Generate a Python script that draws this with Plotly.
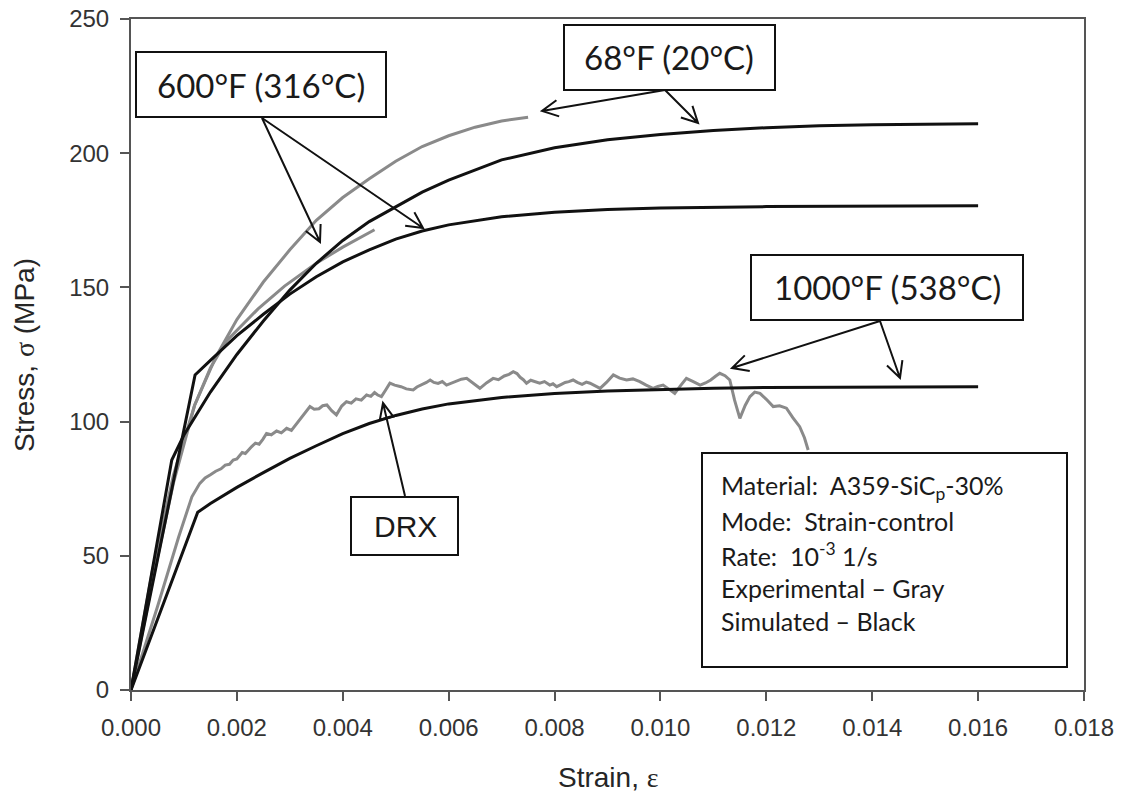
import math
import plotly.graph_objects as go

# ---------------- data ----------------
sim68_x = [0, 0.00077, 0.0010, 0.0015, 0.0020, 0.0025, 0.0030, 0.0035, 0.0040, 0.0045, 0.0050,
           0.0055, 0.0060, 0.0070, 0.0080, 0.0090, 0.0100, 0.0110, 0.0120, 0.0130, 0.0140, 0.0150, 0.0160]
sim68_y = [0, 85.7, 95, 111, 125, 137.5, 149, 159, 167.5, 174.5, 180,
           185.5, 190, 197.5, 202, 205, 207, 208.5, 209.5, 210.2, 210.6, 210.9, 211]

sim600_x = [0, 0.00121, 0.0015, 0.0020, 0.0025, 0.0030, 0.0035, 0.0040, 0.0045, 0.0050, 0.0055,
            0.0060, 0.0070, 0.0080, 0.0090, 0.0100, 0.0120, 0.0140, 0.0160]
sim600_y = [0, 117.4, 122.8, 132, 140, 147.5, 154, 159.5, 164, 168, 171,
            173.3, 176.3, 178, 179, 179.6, 180.1, 180.3, 180.4]

sim1000_x = [0, 0.00126, 0.0015, 0.0020, 0.0025, 0.0030, 0.0035, 0.0040, 0.0045, 0.0050, 0.0055,
             0.0060, 0.0070, 0.0080, 0.0090, 0.0100, 0.0110, 0.0120, 0.0140, 0.0160]
sim1000_y = [0, 66.2, 69.5, 75.5, 81, 86.3, 91, 95.5, 99.3, 102.3, 104.7,
             106.6, 109, 110.5, 111.4, 112, 112.4, 112.7, 112.9, 113]

exp68_x = [0, 0.0004, 0.0008, 0.0012, 0.0016, 0.0020, 0.0025, 0.0030, 0.0035, 0.0040, 0.0045,
           0.0050, 0.0055, 0.0060, 0.0065, 0.0070, 0.0075]
exp68_y = [0, 44, 80, 106, 124, 138, 152, 164, 175, 183.5, 190.5,
           197, 202.5, 206.5, 209.7, 212, 213.4]

exp600_x = [0, 0.0004, 0.0008, 0.0012, 0.0015, 0.0018, 0.0024, 0.0029, 0.0035, 0.0040, 0.0046]
exp600_y = [0, 40, 77, 106, 120, 130, 142, 150.5, 159, 165, 171.5]

exp1000_x = [0, 0.0005, 0.0009, 0.00115, 0.0013, 0.0014, 0.0015, 0.0016, 0.0017, 0.00178, 0.00186,
             0.00193, 0.0020, 0.0021, 0.00216, 0.00222, 0.00228, 0.00235, 0.00242, 0.00249, 0.00256,
             0.00265, 0.00275, 0.00284, 0.00294, 0.00303, 0.00316, 0.00322, 0.00328, 0.00338, 0.00346,
             0.00355, 0.00362, 0.0037, 0.00379, 0.00388, 0.00398, 0.00407, 0.00416, 0.00425, 0.00435,
             0.00445, 0.00453, 0.0046, 0.00466, 0.00473, 0.00481, 0.00489, 0.00498, 0.0051, 0.0052,
             0.00533, 0.0054, 0.0055, 0.00558, 0.00565, 0.00572, 0.0058, 0.00588, 0.00596, 0.00605,
             0.00615, 0.00624, 0.00634, 0.00646, 0.00659, 0.00672, 0.00684, 0.00694, 0.00705, 0.00714,
             0.00722, 0.00729, 0.00735, 0.00741, 0.00747, 0.00755, 0.00763, 0.00772, 0.00781, 0.00791,
             0.00797, 0.00804, 0.00812, 0.0082, 0.00827, 0.00835, 0.00843, 0.00852, 0.0086, 0.00867,
             0.00876, 0.00886, 0.00898, 0.00911, 0.00923, 0.00936, 0.00948, 0.00961, 0.00973, 0.00986,
             0.00995, 0.01005, 0.01016, 0.01027, 0.01038, 0.01049, 0.01062, 0.01075, 0.01085, 0.01095,
             0.01104, 0.01112, 0.01122, 0.01131, 0.0114, 0.0115, 0.0116, 0.01169, 0.01178, 0.01188,
             0.012, 0.01213, 0.01225, 0.01238, 0.0125, 0.01263, 0.01272, 0.01279]
exp1000_y = [0, 31, 57, 72, 77, 79, 80.2, 81.5, 82.4, 83.8, 84.1,
             85.7, 86.1, 88.5, 88.1, 89.5, 90.7, 92, 91.6, 93.4, 95.6,
             95.1, 96.5, 95.8, 97.5, 96.7, 100, 101.4, 103, 105.6, 104.6,
             104.8, 105.9, 106.2, 104.1, 102.5, 105.8, 107.4, 106.9, 108.5, 108.0,
             109.9, 109.4, 110.8, 109.9, 109.3, 111.8, 114.3, 113.6, 113, 112.2,
             111.8, 112.9, 113.8, 114.6, 115.5, 114.6, 114.2, 114.9, 113.6, 114.3,
             115, 115.8, 116.1, 114.2, 112.4, 114.5, 116.1, 115.6, 117, 117.6,
             118.6, 117.9, 116.5, 115.6, 114.3, 115.4, 114.8, 114.3, 114.9, 113.6,
             114.1, 113, 113.8, 114.6, 114.9, 115.5, 114.6, 113.9, 114.7, 114.3,
             113.4, 112.4, 114.6, 117.4, 116.2, 115.5, 115.9, 114.9, 113.6, 112.4,
             113.1, 113.6, 112.1, 110.5, 113.4, 116.1, 114.9, 113.6, 114.4, 115.5,
             116.9, 118, 117.1, 115.5, 108, 101.2, 106, 109.3, 111, 110.5,
             108.3, 105.6, 105.9, 105, 101.5, 98.1, 94, 89.4]

x_ticks = [0, 0.002, 0.004, 0.006, 0.008, 0.010, 0.012, 0.014, 0.016, 0.018]
y_ticks = [0, 50, 100, 150, 200, 250]

# ---------------- geometry helpers (pixel -> data / paper) ----------------
W, H = 1126, 808
PL, PR, PT, PB = 131, 1084, 19, 690
XMAX, YMAX = 0.018, 250.0


def dx(px):
    return (px - PL) / (PR - PL) * XMAX


def dy(py):
    return (PB - py) / (PB - PT) * YMAX


def ppx(px):
    return (px - PL) / (PR - PL)


def ppy(py):
    return (PB - py) / (PB - PT)


GRAY = "#8a8a8a"
BLACK = "#111111"

fig = go.Figure()
for xs, ys in [(exp68_x, exp68_y), (exp600_x, exp600_y), (exp1000_x, exp1000_y)]:
    fig.add_trace(go.Scatter(x=xs, y=ys, mode="lines", line=dict(color=GRAY, width=3),
                             showlegend=False, hoverinfo="skip"))
for xs, ys in [(sim68_x, sim68_y), (sim600_x, sim600_y), (sim1000_x, sim1000_y)]:
    fig.add_trace(go.Scatter(x=xs, y=ys, mode="lines", line=dict(color=BLACK, width=3),
                             showlegend=False, hoverinfo="skip"))

shapes = []
annotations = []

LABEL_FONT = dict(family="Lato, Noto Sans, sans-serif", size=33, color="#1a1a1a")
INFO_FONT = dict(family="Lato, Noto Sans, sans-serif", size=25, color="#1a1a1a")


def box(x0, y0, x1, y1):
    shapes.append(dict(type="rect", xref="x", yref="y", x0=dx(x0), x1=dx(x1), y0=dy(y0), y1=dy(y1),
                       line=dict(color=BLACK, width=2), fillcolor="white", layer="above"))


def label(text, cx, cy, font):
    annotations.append(dict(x=dx(cx), y=dy(cy), xref="x", yref="y", text=text, showarrow=False,
                            font=font, xanchor="center", yanchor="middle"))


def arrow(tx, ty, hx, hy, closed=False, L=18, ang=27):
    ux, uy = hx - tx, hy - ty
    n = math.hypot(ux, uy)
    ux, uy = ux / n, uy / n
    a = math.radians(ang)
    pts = []
    for s in (1, -1):
        rx = ux * math.cos(s * a) - uy * math.sin(s * a)
        ry = ux * math.sin(s * a) + uy * math.cos(s * a)
        pts.append((hx - L * rx, hy - L * ry))
    path = f"M {dx(tx)},{dy(ty)} L {dx(hx)},{dy(hy)} "
    path += f"M {dx(pts[0][0])},{dy(pts[0][1])} L {dx(hx)},{dy(hy)} L {dx(pts[1][0])},{dy(pts[1][1])}"
    if closed:
        path += " Z"
    shapes.append(dict(type="path", xref="x", yref="y", path=path,
                       line=dict(color=BLACK, width=2), layer="above"))


# arrows
arrow(262, 118, 320, 242)
arrow(262, 118, 423, 228)
arrow(665, 90, 542, 111)
arrow(665, 90, 698, 123)
arrow(880, 321, 732, 368)
arrow(880, 321, 900, 378)
arrow(405, 496, 383, 403, closed=True, L=17, ang=24)

# label boxes
box(136, 52, 386, 117)
label("600°F (316°C)", 261, 85, LABEL_FONT)
box(564, 25, 775, 90)
label("68°F (20°C)", 669, 57, LABEL_FONT)
box(751, 255, 1023, 320)
label("1000°F (538°C)", 887, 287, LABEL_FONT)
box(351, 497, 458, 555)
annotations.append(dict(x=dx(405), y=dy(526), xref="x", yref="y", text="DRX", showarrow=False,
                        font=dict(family="Liberation Sans, Arial, sans-serif", size=30, color="#1a1a1a"),
                        xanchor="center", yanchor="middle"))

# info box
box(702, 453, 1067, 667)
info_lines = ["Material:  A359-SiC<sub>p</sub>-30%", "Mode:  Strain-control", "Rate:  10<sup>-3</sup> 1/s",
              "Experimental – Gray", "Simulated – Black"]
for i, t in enumerate(info_lines):
    annotations.append(dict(x=dx(719), y=dy(487 + i * 33.5), xref="x", yref="y", text=t, showarrow=False,
                            font=INFO_FONT, xanchor="left", yanchor="middle"))

# axis titles
SERIF = "font-family:'Liberation Serif','DejaVu Serif',serif"
annotations.append(dict(x=ppx((PL + PR) / 2), y=ppy(777), xref="paper", yref="paper",
                        text=f"Strain, <span style=\"{SERIF}\">ε</span>", showarrow=False,
                        font=dict(family="Liberation Sans, Arial, sans-serif", size=28, color="#262626"),
                        xanchor="center", yanchor="middle"))
annotations.append(dict(x=ppx(25), y=ppy(355), xref="paper", yref="paper",
                        text=f"Stress, <span style=\"{SERIF}\">σ</span> (MPa)", showarrow=False, textangle=-90,
                        font=dict(family="Liberation Sans, Arial, sans-serif", size=28, color="#262626"),
                        xanchor="center", yanchor="middle"))

AX = dict(showgrid=False, zeroline=False, showline=True, linecolor="#555555", linewidth=2, mirror=True,
          ticks="outside", ticklen=9, tickwidth=2, tickcolor="#555555", automargin=False,
          tickfont=dict(family="Liberation Sans, Arial, sans-serif", size=24, color="#333333"))

fig.update_layout(
    width=W, height=H, autosize=False,
    margin=dict(l=PL, r=W - PR, t=PT, b=H - PB, pad=0),
    plot_bgcolor="white", paper_bgcolor="white",
    xaxis=dict(range=[0, XMAX], tickvals=x_ticks, tickformat=".3f", ticklabelstandoff=6, **AX),
    yaxis=dict(range=[0, YMAX], tickvals=y_ticks, ticklabelstandoff=6, **AX),
    shapes=shapes, annotations=annotations, showlegend=False,
)

fig.write_html("out.html", config={"displayModeBar": False},
               post_script="document.body.style.margin='0';document.body.style.overflow='hidden';")
